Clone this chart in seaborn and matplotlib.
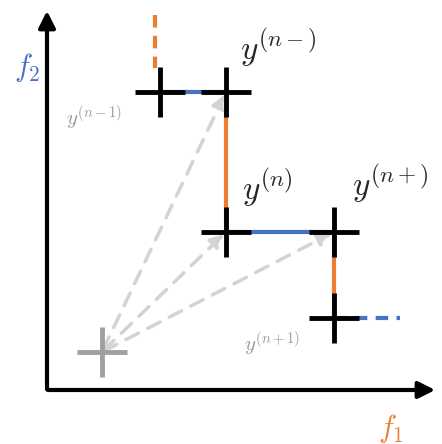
import matplotlib.pyplot as plt
import seaborn as sns
import pandas as pd

sns.set_style("white")
plt.rcParams['font.family'] = ['DejaVu Serif']
plt.rcParams['mathtext.fontset'] = 'cm'

BLUE = '#4472c4'
ORANGE = '#ed7d31'
GREY = '#b0b0b0'

# point positions (diagram units, y grows downward)
pt_x = [160, 226, 226, 334, 334]
pt_y = [92, 92, 232, 232, 318]
pt_names = ['n-1', 'n-', 'n', 'n+', 'n+1']
ref_x, ref_y = 102, 352

fig = plt.figure(figsize=(4.42, 4.44), dpi=100)
ax = fig.add_axes([0, 0, 1, 1])
ax.set_xlim(0, 442)
ax.set_ylim(444, 0)
ax.axis('off')

# axes arrows
ax.annotate('', xy=(47, 8), xytext=(47, 392),
            arrowprops=dict(arrowstyle='-|>,head_width=0.5,head_length=1', lw=3, color='black'))
ax.annotate('', xy=(438, 390), xytext=(45, 390),
            arrowprops=dict(arrowstyle='-|>,head_width=0.5,head_length=1', lw=3, color='black'))
ax.text(14, 68, r'$f_2$', color=BLUE, fontsize=22, ha='left', va='center')
ax.text(378, 428, r'$f_1$', color=ORANGE, fontsize=22, ha='left', va='center')

# staircase segments
ax.plot([pt_x[0], pt_x[1]], [pt_y[0], pt_y[1]], color=BLUE, lw=3)
ax.plot([pt_x[2], pt_x[3]], [pt_y[2], pt_y[3]], color=BLUE, lw=3)
ax.plot([pt_x[4], 400], [pt_y[4], pt_y[4]], color=BLUE, lw=3, ls=(0, (3, 2)))
ax.plot([pt_x[1], pt_x[2]], [pt_y[1], pt_y[2]], color=ORANGE, lw=3)
ax.plot([pt_x[3], pt_x[4]], [pt_y[3], pt_y[4]], color=ORANGE, lw=3)
ax.plot([155, 155], [15, 68], color=ORANGE, lw=3, ls=(0, (3, 2)))

# grey dashed arrows from reference point
for i in [1, 2, 3]:
    ax.annotate('', xy=(pt_x[i], pt_y[i]), xytext=(ref_x, ref_y),
                arrowprops=dict(arrowstyle='-|>,head_width=0.4,head_length=0.8',
                                lw=2.5, color='#d3d3d3', ls=(0, (4, 3))))

df = pd.DataFrame({'x': pt_x, 'y': pt_y})
sns.scatterplot(data=df, x='x', y='y', marker='+', s=1300, color='black',
                linewidth=3.5, ax=ax, zorder=5)
ax.scatter([ref_x], [ref_y], marker='+', s=1300, color='#a0a0a0', linewidths=3.5, zorder=5)
ax.set_xlim(0, 442)
ax.set_ylim(444, 0)

ax.text(240, 48, r'$y^{(n-)}$', fontsize=24, ha='left', va='center')
ax.text(242, 188, r'$y^{(n)}$', fontsize=24, ha='left', va='center')
ax.text(352, 184, r'$y^{(n+)}$', fontsize=24, ha='left', va='center')
ax.text(66, 118, r'$y^{(n-1)}$', fontsize=15, color='#999999', ha='left', va='center')
ax.text(244, 344, r'$y^{(n+1)}$', fontsize=15, color='#999999', ha='left', va='center')

fig.savefig('out.png', dpi=100)
